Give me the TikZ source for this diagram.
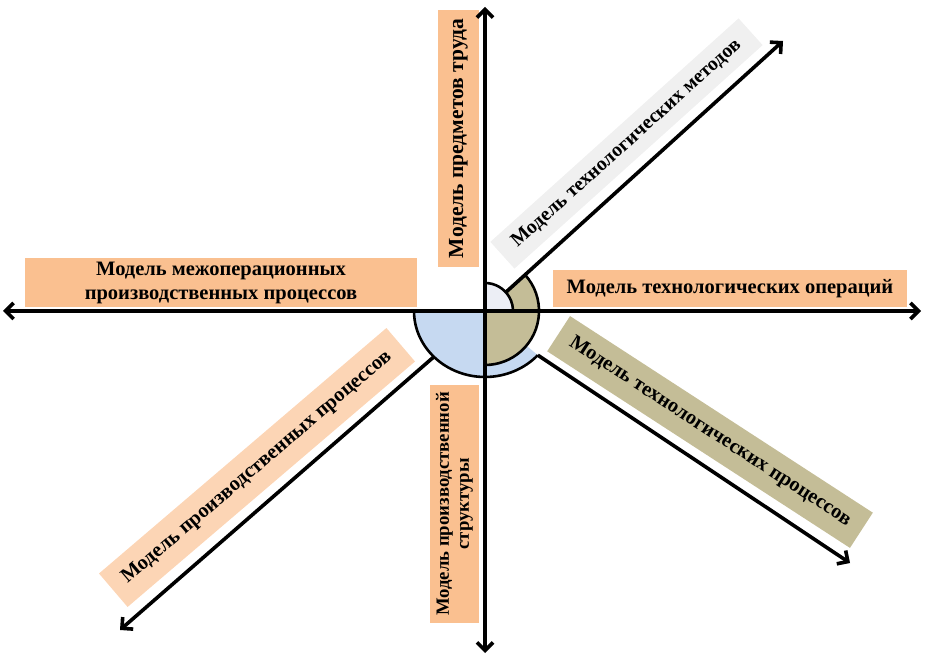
\documentclass[tikz,border=0pt]{standalone}
\usepackage{fontspec}
\setmainfont{Liberation Serif}
\usetikzlibrary{arrows.meta,calc}
\definecolor{boxorange}{HTML}{FAC090}
\definecolor{boxpeach}{HTML}{FCD5B5}
\definecolor{boxtan}{HTML}{C4BD97}
\definecolor{boxgrey}{HTML}{F0F0F0}
\definecolor{secblue}{HTML}{C6D9F1}
\definecolor{seclight}{HTML}{ECEEF5}
\tikzset{
  lbl/.style={inner sep=0pt, outer sep=0pt, align=center,
    font=\bfseries\fontsize{20.5}{24}\selectfont},
  barb/.tip={Straight Barb[length=8pt,width=16pt]},
  arr/.style={line width=3.6pt, -barb},
  biarr/.style={line width=3.6pt, barb-barb},
  arcline/.style={line width=2.6pt}
}
\begin{document}
\begin{tikzpicture}[x=1pt,y=1pt]
\useasboundingbox (0,0) rectangle (925,658);
% label boxes
\node[lbl, fill=boxorange, rotate=90, minimum width=257, minimum height=41, font=\bfseries\fontsize{21.5}{24}\selectfont] (predm) at (458.5,519.5) {Модель предметов труда};
\node[lbl, fill=boxorange, minimum width=354, minimum height=37] (oper) at (730,369.5) {Модель технологических операций};
\node[lbl, fill=boxorange, minimum width=392, minimum height=49] (mezh) at (221,375.5) {Модель межоперационных\\производственных процессов};
\node[lbl, fill=boxorange, rotate=90, minimum width=238, minimum height=49, font=\bfseries\fontsize{18.7}{20}\selectfont] (strukt) at (454.5,154) {Модель производственной\\структуры};
\node[lbl, fill=boxgrey, rotate=42, minimum width=334, minimum height=36, font=\bfseries\fontsize{19.8}{24}\selectfont] (metod) at (626.5,514.5) {Модель технологических методов};
\node[lbl, fill=boxpeach, rotate=40.5, minimum width=378, minimum height=44] (proizv) at (257,190.5) {Модель производственных процессов};
\node[lbl, fill=boxtan, rotate=-33, minimum width=361, minimum height=42] (tproc) at (710,226) {Модель технологических процессов};
% centre sectors
\coordinate (O) at (485,347);
\fill[secblue] (O) -- +(-71,0) arc[start angle=180, end angle=318, x radius=71, y radius=66] -- cycle;
\draw[arcline] ($(O)+(-71,0)$) arc[start angle=180, end angle=318, x radius=71, y radius=66];
\fill[boxtan] (O) -- +(42:54) arc[start angle=42, end angle=-90, radius=54] -- cycle;
\draw[arcline] (O) ++(42:54) arc[start angle=42, end angle=-90, radius=54];
\fill[seclight] (O) -- +(0,28) arc[start angle=90, end angle=-4, radius=28] -- cycle;
\draw[arcline] (O) ++(0,28) arc[start angle=90, end angle=-4, radius=28];
% arrow end points
\coordinate (top) at (485,651);
\coordinate (bot) at (485,5);
\coordinate (lft) at (3,347);
\coordinate (rgt) at (921,347);
\coordinate (urS) at (505.8,365.7);
\coordinate (urE) at (783,617);
\coordinate (lrS) at (537.8,302.8);
\coordinate (lrE) at (850,95);
\coordinate (llS) at (433.9,301.2);
\coordinate (llE) at (120,28);
% axes and arrows
\draw[biarr] (bot) -- (top);
\draw[biarr] (lft) -- (rgt);
\draw[arr] (urS) -- (urE);
\draw[arr] (lrS) -- (lrE);
\draw[arr] (llS) -- (llE);
\end{tikzpicture}
\end{document}
